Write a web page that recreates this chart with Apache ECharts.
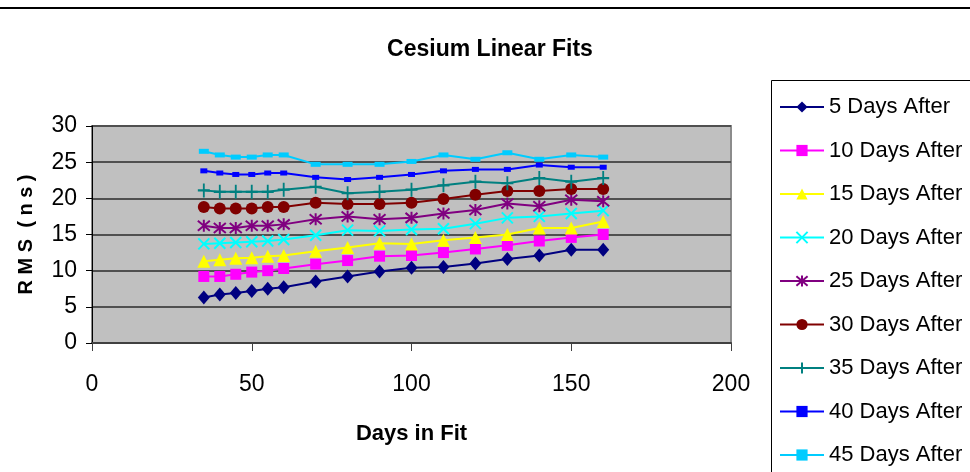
<!DOCTYPE html>
<html>
<head>
<meta charset="utf-8">
<style>
  html, body { margin: 0; padding: 0; background: #fff; }
  #chart { width: 970px; height: 472px; }
</style>
<script src="https://cdn.jsdelivr.net/npm/echarts@6/dist/echarts.min.js"></script>
</head>
<body>
<div id="chart"></div>
<script>
const fontFamily = '"Liberation Sans", Arial, sans-serif'

// days in fit (x)
const daysInFit = [35, 40, 45, 50, 55, 60, 70, 80, 90, 100, 110, 120, 130, 140, 150, 160]

// RMS (ns) per series
const after5 = [6.3, 6.7, 6.9, 7.2, 7.5, 7.7, 8.5, 9.2, 9.9, 10.4, 10.5, 11.0, 11.6, 12.1, 12.9, 12.9]
const after10 = [9.2, 9.2, 9.5, 9.8, 10.0, 10.3, 10.9, 11.4, 12.0, 12.1, 12.5, 13.0, 13.5, 14.1, 14.6, 15.0]
const after15 = [11.3, 11.5, 11.7, 11.8, 12.0, 12.1, 12.7, 13.2, 13.8, 13.7, 14.2, 14.6, 15.0, 15.9, 15.9, 16.8]
const after20 = [13.7, 13.8, 13.9, 14.0, 14.1, 14.3, 14.9, 15.6, 15.5, 15.7, 15.8, 16.5, 17.3, 17.5, 17.9, 18.3]
const after25 = [16.2, 15.9, 15.9, 16.2, 16.2, 16.4, 17.1, 17.5, 17.1, 17.3, 17.9, 18.4, 19.3, 18.9, 19.8, 19.6]
const after30 = [18.8, 18.6, 18.6, 18.6, 18.8, 18.8, 19.4, 19.2, 19.2, 19.4, 19.9, 20.5, 21.0, 21.0, 21.3, 21.3]
const after35 = [21.1, 20.9, 20.9, 20.9, 20.9, 21.2, 21.6, 20.7, 20.9, 21.2, 21.8, 22.3, 22.1, 22.8, 22.3, 22.8]
const after40 = [23.8, 23.5, 23.3, 23.3, 23.5, 23.5, 22.9, 22.6, 22.9, 23.3, 23.8, 24.0, 24.0, 24.6, 24.3, 24.3]
const after45 = [26.5, 26.0, 25.7, 25.7, 26.0, 26.0, 24.7, 24.7, 24.7, 25.1, 26.0, 25.4, 26.3, 25.4, 26.0, 25.7]

const seriesNames = ['5 Days After', '10 Days After', '15 Days After', '20 Days After', '25 Days After',
  '30 Days After', '35 Days After', '40 Days After', '45 Days After']
const seriesValues = [after5, after10, after15, after20, after25, after30, after35, after40, after45]

// excel-ish marker setup
const colorList = ['#000080', '#FF00FF', '#FFFF00', '#00FFFF', '#800080', '#800000', '#008080', '#0000FF', '#00CCFF']
const markers = [
  { symbol: 'diamond', size: [12, 14] },
  { symbol: 'rect', size: 11 },
  { symbol: 'triangle', size: [13, 13] },
  { symbol: 'path://M0 0L10 10M10 0L0 10', size: 11, stroke: true },
  { symbol: 'path://M0 0L10 10M10 0L0 10M5 -1L5 11', size: 12, stroke: true },
  { symbol: 'circle', size: 12 },
  { symbol: 'path://M0 5L10 5M5 -2L5 12', size: [12, 14], stroke: true },
  { symbol: 'rect', size: [7, 5] },
  { symbol: 'rect', size: [10, 5] }
]

const series = seriesNames.map((name, i) => {
  const m = markers[i]
  const itemStyle = { color: colorList[i] }
  if (m.stroke) {
    itemStyle.borderColor = colorList[i]
    itemStyle.borderWidth = 2
  }
  return {
    name,
    type: 'line',
    data: daysInFit.map((d, k) => [d, seriesValues[i][k]]),
    symbol: m.symbol,
    symbolSize: m.size,
    showSymbol: true,
    animation: false,
    itemStyle,
    lineStyle: { color: colorList[i], width: 2 }
  }
})

const chart = echarts.init(document.getElementById('chart'))
chart.setOption({
  backgroundColor: '#fff',
  title: {
    text: 'Cesium Linear Fits',
    left: 485,
    top: 33,
    textAlign: 'center',
    textStyle: { fontFamily, fontSize: 23, fontWeight: 'bold', color: '#000' }
  },
  legend: {
    orient: 'vertical',
    left: 779,
    top: 95,
    height: 378,
    padding: 0,
    itemWidth: 44,
    itemHeight: 14,
    itemGap: 19.5,
    data: seriesNames,
    textStyle: { fontFamily, fontSize: 22, color: '#000', lineHeight: 24 }
  },
  grid: {
    left: 92,
    right: 239,
    top: 126,
    bottom: 129,
    show: true,
    backgroundColor: '#C0C0C0',
    borderColor: '#8c8c8c',
    borderWidth: 2
  },
  xAxis: {
    type: 'value',
    min: 0,
    max: 200,
    interval: 50,
    name: 'Days in Fit',
    nameLocation: 'middle',
    nameGap: 80,
    nameTextStyle: { fontFamily, fontSize: 22, fontWeight: 'bold', color: '#000' },
    axisLine: { lineStyle: { color: '#404040', width: 2 } },
    axisTick: { show: true, length: 8, lineStyle: { color: '#404040', width: 1 } },
    axisLabel: { fontFamily, fontSize: 23, color: '#000', margin: 30 },
    splitLine: { show: false }
  },
  yAxis: {
    type: 'value',
    min: 0,
    max: 30,
    interval: 5,
    name: 'R M S  ( n s )',
    nameLocation: 'middle',
    nameGap: 56,
    nameTextStyle: { fontFamily, fontSize: 20, fontWeight: 'bold', color: '#000' },
    axisLine: { show: true, lineStyle: { color: '#000', width: 1 } },
    axisTick: { show: true, length: 6, lineStyle: { color: '#000', width: 1 } },
    axisLabel: { fontFamily, fontSize: 23, color: '#000', margin: 15 },
    splitLine: { show: true, lineStyle: { color: '#505050', width: 2 } }
  },
  graphic: [
    {
      type: 'line',
      shape: { x1: 0, y1: 8, x2: 970, y2: 8 },
      style: { stroke: '#000', lineWidth: 2 }
    },
    {
      type: 'rect',
      shape: { x: 771.5, y: 80.5, width: 240, height: 420 },
      style: { fill: 'none', stroke: '#000', lineWidth: 1 },
      z: -1
    }
  ],
  series
})
</script>
</body>
</html>
